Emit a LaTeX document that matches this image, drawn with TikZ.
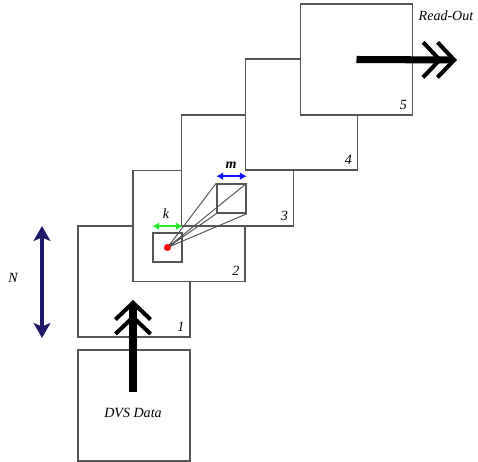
\documentclass[tikz,border=0pt]{standalone}
\usepackage{fontspec}
\setmainfont{Liberation Serif}
\usetikzlibrary{arrows.meta, positioning}

\definecolor{edgegray}{RGB}{85,85,85}
\definecolor{navyarrow}{RGB}{30,25,105}
\definecolor{kgreen}{RGB}{40,235,40}
\definecolor{mblue}{RGB}{20,20,255}

\begin{document}
\begin{tikzpicture}[x=0.02cm, y=-0.02cm,
    layer/.style={draw=edgegray, fill=white, line width=1pt, minimum width=2.24cm, minimum height=2.22cm, inner sep=0pt},
    win/.style={draw=edgegray, line width=0.9pt, minimum size=0.58cm, inner sep=0pt},
    lbl/.style={font=\fontsize{8}{10}\selectfont\itshape},
    num/.style={lbl, anchor=south east, inner sep=3.5pt},
    chev/.style={line width=4pt, -{Straight Barb[length=9.5pt,width=20pt,line width=2.3pt,sep=-4pt] Straight Barb[length=9.5pt,width=20pt,line width=2.3pt]}},
    dim/.style={line width=1.1pt, {Latex[length=4pt,width=4.5pt]}-{Latex[length=4pt,width=4.5pt]}}]
    \path[use as bounding box, fill=white] (0,0) rectangle (478,462);
    % the stacked layers, later ones on top
    \node[layer] (l1) at (134,281.5) {};
    \node[layer] (l2) at (189,226) {};
    \node[layer] (l3) at (237.5,170.5) {};
    \node[layer] (l4) at (301.5,114.5) {};
    \node[layer] (l5) at (356.5,59.5) {};
    \node[layer] (dvs) at (134,405.5) {};
    \node[num] (n1) at (l1.south east) {1};
    \node[num] (n2) at (l2.south east) {2};
    \node[num] (n3) at (l3.south east) {3};
    \node[num] (n4) at (l4.south east) {4};
    \node[num] (n5) at (l5.south east) {5};
    \node[lbl] (dvstxt) at (133,413) {DVS Data};
    \node[lbl] (readout) at (446,16) {Read-Out};
    % kernel and receptive window
    \node[win] (kern) at (167.5,247.5) {};
    \node[win] (recep) at (231.5,198.5) {};
    \draw[edgegray, line width=0.55pt] (recep.north west) -- (kern.center) -- (recep.north east)
        (recep.south west) -- (kern.center) -- (recep.south east);
    \node[circle, fill=red, minimum size=4pt, inner sep=0pt] (dot) at (kern.center) {};
    \draw[dim, kgreen] ([yshift=3.4pt]kern.north west) -- ([yshift=3.4pt]kern.north east);
    \draw[dim, mblue] ([yshift=4pt]recep.north west) -- ([yshift=4pt]recep.north east);
    \node[lbl] (k) at (166,214) {k};
    \node[lbl] (m) at (231,165) {\bfseries m};
    % size arrow
    \coordinate (ntop) at (42,226);
    \coordinate (nbot) at (42,338);
    \draw[navyarrow, line width=2pt, {Stealth[length=8.5pt,width=9.5pt,inset=2pt]}-{Stealth[length=8.5pt,width=9.5pt,inset=2pt]}] (ntop) -- (nbot);
    \node[lbl] (n) at (13,278) {N};
    % data in and out
    \coordinate (upfrom) at (133,392);
    \coordinate (upto) at (133,300);
    \draw[chev] (upfrom) -- (upto);
    \coordinate (outto) at (457,60);
    \draw[chev] (l5.center) -- (outto);
\end{tikzpicture}
\end{document}
